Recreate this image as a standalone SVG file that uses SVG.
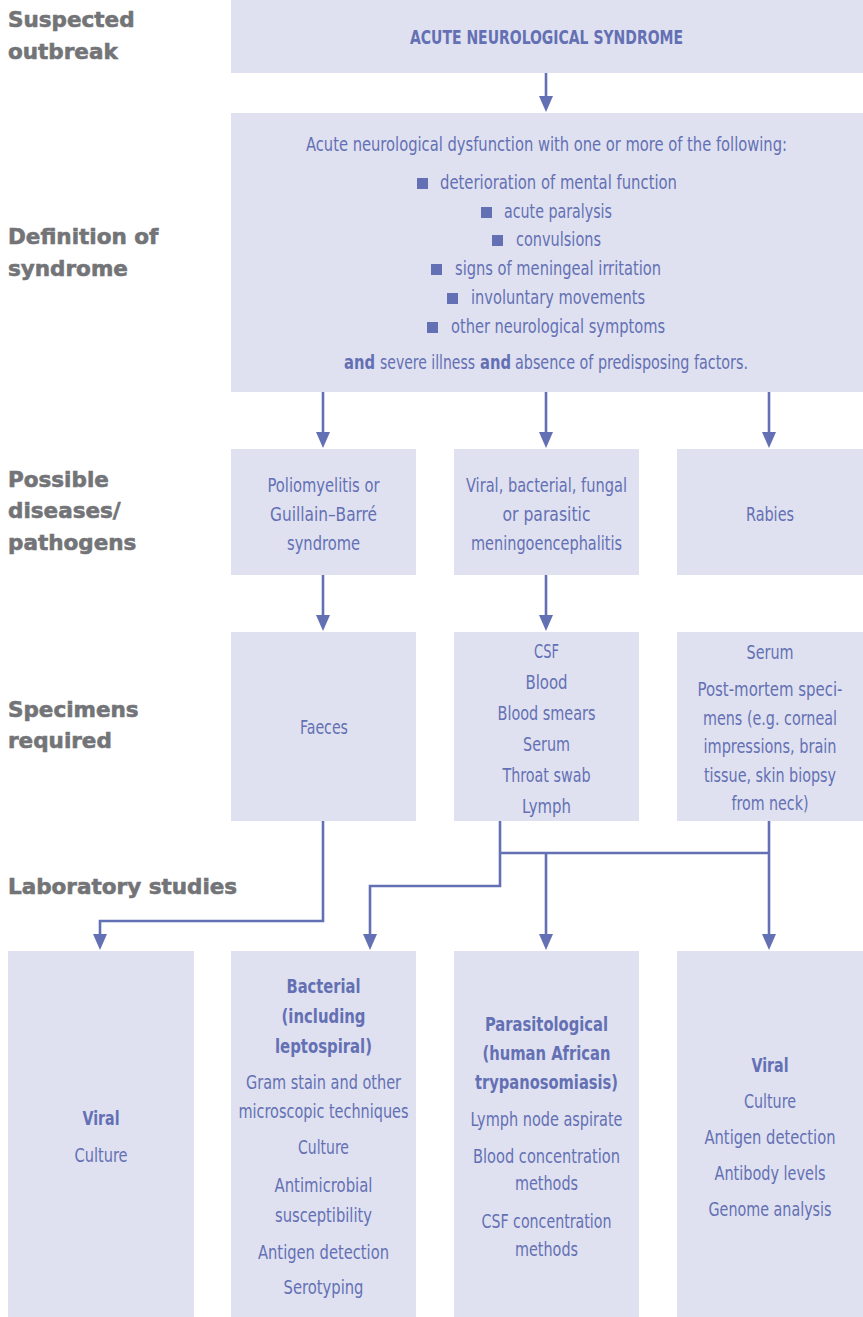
<svg xmlns="http://www.w3.org/2000/svg" width="863" height="1317" viewBox="0 0 863 1317">
  <style>
    .box { fill: #dfe1f0; }
    .t { font-family: "Liberation Sans Narrow", "Arial Narrow", "DejaVu Sans Condensed", sans-serif; font-size: 19.5px; fill: #6470b4; text-anchor: middle; }
    .s { text-anchor: start; }
    .b { font-weight: bold; }
    .lab { font-family: "DejaVu Sans", sans-serif; font-weight: bold; font-size: 21.5px; fill: #737477; stroke: #737477; stroke-width: 0.6; }
    .c { stroke: #6470b4; stroke-width: 2.6; fill: none; }
    .bul { fill: #6470b4; }
    .head { fill: #6470b4; }
  </style>
  <rect width="863" height="1317" fill="#ffffff"/>

  <!-- row labels -->
  <g id="labels">
    <text class="lab" x="8" y="27">Suspected</text>
    <text class="lab" x="8" y="59">outbreak</text>
    <text class="lab" x="8" y="244">Definition of</text>
    <text class="lab" x="8" y="276">syndrome</text>
    <text class="lab" x="8" y="487">Possible</text>
    <text class="lab" x="8" y="518">diseases/</text>
    <text class="lab" x="8" y="550">pathogens</text>
    <text class="lab" x="8" y="717">Specimens</text>
    <text class="lab" x="8" y="748">required</text>
    <text class="lab" x="8" y="894">Laboratory studies</text>
  </g>

  <!-- connectors -->
  <g id="connectors">
    <path class="c" d="M546,73 V100"/>
    <path class="c" d="M323,392 V436"/>
    <path class="c" d="M546,392 V436"/>
    <path class="c" d="M769,392 V436"/>
    <path class="c" d="M323,575 V619"/>
    <path class="c" d="M546,575 V619"/>
    <path class="c" d="M323,821 V921 H100 V938"/>
    <path class="c" d="M500,821 V886 H370 V938"/>
    <path class="c" d="M500,853 H769"/>
    <path class="c" d="M546,853 V938"/>
    <path class="c" d="M769,821 V938"/>
    <path class="head" d="M539,96 L553,96 L546,112 Z"/>
    <path class="head" d="M316,432 L330,432 L323,448 Z"/>
    <path class="head" d="M539,432 L553,432 L546,448 Z"/>
    <path class="head" d="M762,432 L776,432 L769,448 Z"/>
    <path class="head" d="M316,615 L330,615 L323,631 Z"/>
    <path class="head" d="M539,615 L553,615 L546,631 Z"/>
    <path class="head" d="M93,934 L107,934 L100,950 Z"/>
    <path class="head" d="M363,934 L377,934 L370,950 Z"/>
    <path class="head" d="M539,934 L553,934 L546,950 Z"/>
    <path class="head" d="M762,934 L776,934 L769,950 Z"/>
  </g>

  <g id="node-syndrome">
    <rect class="box" x="231" y="0" width="632" height="73"/>
    <text class="t b" x="546.5" y="44" textLength="273" lengthAdjust="spacingAndGlyphs">ACUTE NEUROLOGICAL SYNDROME</text>
  </g>

  <g id="node-definition">
    <rect class="box" x="231" y="113" width="632" height="279"/>
    <text class="t" x="546.5" y="151" textLength="481" lengthAdjust="spacingAndGlyphs">Acute neurological dysfunction with one or more of the following:</text>
    <rect class="bul" x="417" y="178" width="11" height="11"/>
    <text class="t s" x="440" y="189" textLength="237" lengthAdjust="spacingAndGlyphs">deterioration of mental function</text>
    <rect class="bul" x="481" y="207" width="11" height="11"/>
    <text class="t s" x="504" y="218" textLength="108" lengthAdjust="spacingAndGlyphs">acute paralysis</text>
    <rect class="bul" x="492" y="235" width="11" height="11"/>
    <text class="t s" x="516" y="246" textLength="85" lengthAdjust="spacingAndGlyphs">convulsions</text>
    <rect class="bul" x="431" y="264" width="11" height="11"/>
    <text class="t s" x="455" y="275" textLength="206" lengthAdjust="spacingAndGlyphs">signs of meningeal irritation</text>
    <rect class="bul" x="447" y="293" width="11" height="11"/>
    <text class="t s" x="471" y="304" textLength="174" lengthAdjust="spacingAndGlyphs">involuntary movements</text>
    <rect class="bul" x="427" y="322" width="11" height="11"/>
    <text class="t s" x="451" y="333" textLength="214" lengthAdjust="spacingAndGlyphs">other neurological symptoms</text>
    <text class="t s b" x="344" y="369" textLength="31" lengthAdjust="spacingAndGlyphs">and</text>
    <text class="t s" x="380" y="369" textLength="95" lengthAdjust="spacingAndGlyphs">severe illness</text>
    <text class="t s b" x="480" y="369" textLength="31" lengthAdjust="spacingAndGlyphs">and</text>
    <text class="t s" x="515" y="369" textLength="233" lengthAdjust="spacingAndGlyphs">absence of predisposing factors.</text>
  </g>

  <g id="node-polio">
    <rect class="box" x="231" y="449" width="185" height="126"/>
    <text class="t" x="323.5" y="492" textLength="112" lengthAdjust="spacingAndGlyphs">Poliomyelitis or</text>
    <text class="t" x="323.5" y="521" textLength="107" lengthAdjust="spacingAndGlyphs">Guillain–Barré</text>
    <text class="t" x="323.5" y="550" textLength="73" lengthAdjust="spacingAndGlyphs">syndrome</text>
  </g>

  <g id="node-meningo">
    <rect class="box" x="454" y="449" width="185" height="126"/>
    <text class="t" x="546.5" y="492" textLength="161" lengthAdjust="spacingAndGlyphs">Viral, bacterial, fungal</text>
    <text class="t" x="546.5" y="521" textLength="88" lengthAdjust="spacingAndGlyphs">or parasitic</text>
    <text class="t" x="546.5" y="550" textLength="151" lengthAdjust="spacingAndGlyphs">meningoencephalitis</text>
  </g>

  <g id="node-rabies">
    <rect class="box" x="677" y="449" width="186" height="126"/>
    <text class="t" x="770" y="521" textLength="48" lengthAdjust="spacingAndGlyphs">Rabies</text>
  </g>

  <g id="node-faeces">
    <rect class="box" x="231" y="632" width="185" height="189"/>
    <text class="t" x="324" y="734" textLength="48" lengthAdjust="spacingAndGlyphs">Faeces</text>
  </g>

  <g id="node-csf">
    <rect class="box" x="454" y="632" width="185" height="189"/>
    <text class="t" x="546.5" y="658" textLength="25" lengthAdjust="spacingAndGlyphs">CSF</text>
    <text class="t" x="546.5" y="689" textLength="42" lengthAdjust="spacingAndGlyphs">Blood</text>
    <text class="t" x="546.5" y="720" textLength="98" lengthAdjust="spacingAndGlyphs">Blood smears</text>
    <text class="t" x="546.5" y="751" textLength="47" lengthAdjust="spacingAndGlyphs">Serum</text>
    <text class="t" x="546.5" y="782" textLength="88" lengthAdjust="spacingAndGlyphs">Throat swab</text>
    <text class="t" x="546.5" y="813" textLength="49" lengthAdjust="spacingAndGlyphs">Lymph</text>
  </g>

  <g id="node-serum">
    <rect class="box" x="677" y="632" width="186" height="189"/>
    <text class="t" x="770" y="659" textLength="47" lengthAdjust="spacingAndGlyphs">Serum</text>
    <text class="t" x="770" y="696" textLength="145" lengthAdjust="spacingAndGlyphs">Post-mortem speci-</text>
    <text class="t" x="770" y="725" textLength="134" lengthAdjust="spacingAndGlyphs">mens (e.g. corneal</text>
    <text class="t" x="770" y="753" textLength="133" lengthAdjust="spacingAndGlyphs">impressions, brain</text>
    <text class="t" x="770" y="782" textLength="132" lengthAdjust="spacingAndGlyphs">tissue, skin biopsy</text>
    <text class="t" x="770" y="810" textLength="77" lengthAdjust="spacingAndGlyphs">from neck)</text>
  </g>

  <g id="node-viral-1">
    <rect class="box" x="8" y="951" width="186" height="366"/>
    <text class="t b" x="101" y="1125" textLength="37" lengthAdjust="spacingAndGlyphs">Viral</text>
    <text class="t" x="101" y="1162" textLength="53" lengthAdjust="spacingAndGlyphs">Culture</text>
  </g>

  <g id="node-bacterial">
    <rect class="box" x="231" y="951" width="185" height="366"/>
    <text class="t b" x="323.5" y="993" textLength="74" lengthAdjust="spacingAndGlyphs">Bacterial</text>
    <text class="t b" x="323.5" y="1023" textLength="84" lengthAdjust="spacingAndGlyphs">(including</text>
    <text class="t b" x="323.5" y="1053" textLength="97" lengthAdjust="spacingAndGlyphs">leptospiral)</text>
    <text class="t" x="323.5" y="1089" textLength="155" lengthAdjust="spacingAndGlyphs">Gram stain and other</text>
    <text class="t" x="323.5" y="1118" textLength="170" lengthAdjust="spacingAndGlyphs">microscopic techniques</text>
    <text class="t" x="323.5" y="1154" textLength="51" lengthAdjust="spacingAndGlyphs">Culture</text>
    <text class="t" x="323.5" y="1192" textLength="98" lengthAdjust="spacingAndGlyphs">Antimicrobial</text>
    <text class="t" x="323.5" y="1222" textLength="97" lengthAdjust="spacingAndGlyphs">susceptibility</text>
    <text class="t" x="323.5" y="1259" textLength="131" lengthAdjust="spacingAndGlyphs">Antigen detection</text>
    <text class="t" x="323.5" y="1294" textLength="80" lengthAdjust="spacingAndGlyphs">Serotyping</text>
  </g>

  <g id="node-parasitological">
    <rect class="box" x="454" y="951" width="185" height="366"/>
    <text class="t b" x="546.5" y="1031" textLength="123" lengthAdjust="spacingAndGlyphs">Parasitological</text>
    <text class="t b" x="546.5" y="1060" textLength="128" lengthAdjust="spacingAndGlyphs">(human African</text>
    <text class="t b" x="546.5" y="1089" textLength="143" lengthAdjust="spacingAndGlyphs">trypanosomiasis)</text>
    <text class="t" x="546.5" y="1126" textLength="152" lengthAdjust="spacingAndGlyphs">Lymph node aspirate</text>
    <text class="t" x="546.5" y="1163" textLength="147" lengthAdjust="spacingAndGlyphs">Blood concentration</text>
    <text class="t" x="546.5" y="1190" textLength="63" lengthAdjust="spacingAndGlyphs">methods</text>
    <text class="t" x="546.5" y="1228" textLength="130" lengthAdjust="spacingAndGlyphs">CSF concentration</text>
    <text class="t" x="546.5" y="1256" textLength="63" lengthAdjust="spacingAndGlyphs">methods</text>
  </g>

  <g id="node-viral-2">
    <rect class="box" x="677" y="951" width="186" height="366"/>
    <text class="t b" x="770" y="1072" textLength="37" lengthAdjust="spacingAndGlyphs">Viral</text>
    <text class="t" x="770" y="1108" textLength="52" lengthAdjust="spacingAndGlyphs">Culture</text>
    <text class="t" x="770" y="1144" textLength="131" lengthAdjust="spacingAndGlyphs">Antigen detection</text>
    <text class="t" x="770" y="1180" textLength="111" lengthAdjust="spacingAndGlyphs">Antibody levels</text>
    <text class="t" x="770" y="1216" textLength="123" lengthAdjust="spacingAndGlyphs">Genome analysis</text>
  </g>
</svg>
